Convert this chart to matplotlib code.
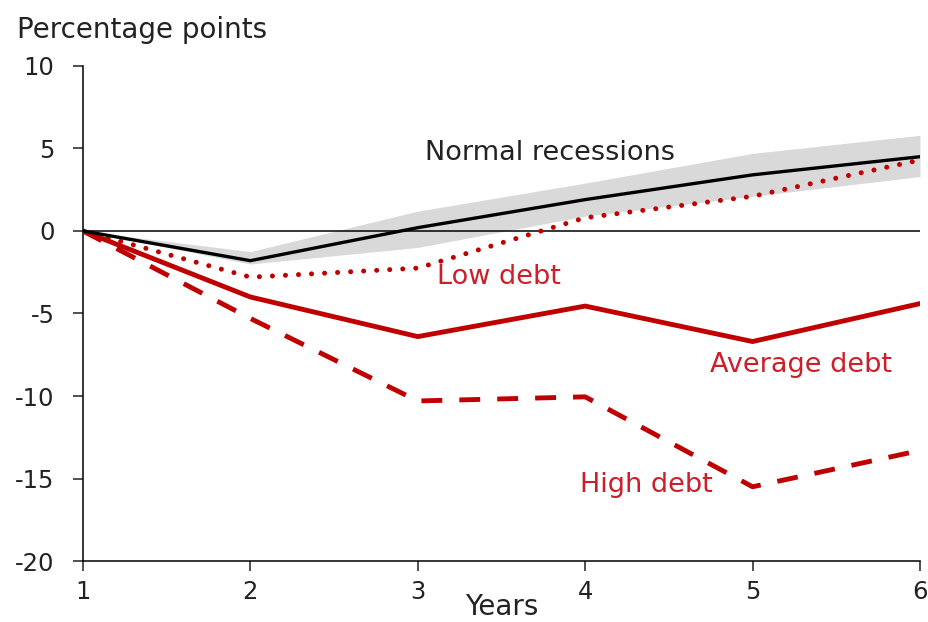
import matplotlib
matplotlib.use("Agg")
import matplotlib.pyplot as plt

# values
years = [1, 2, 3, 4, 5, 6]
normal = [0, -1.8, 0.2, 1.9, 3.4, 4.5]
band_upper = [0, -1.25, 1.2, 2.9, 4.7, 5.8]
band_lower = [0, -2.0, -1.0, 0.9, 2.1, 3.3]
low_debt = [0, -2.8, -2.25, 0.8, 2.1, 4.3]
average_debt = [0, -4.0, -6.4, -4.55, -6.7, -4.4]
high_debt = [0, -5.3, -10.3, -10.05, -15.5, -13.3]

yticks = [10, 5, 0, -5, -10, -15, -20]

red = "#c00000"
red_text = "#cc1f2a"
ink = "#222222"

plt.rcParams["font.family"] = "DejaVu Sans"
plt.rcParams["axes.unicode_minus"] = False
fig = plt.figure(figsize=(9.29, 6.22), dpi=100)
ax = fig.add_axes([0.0893, 0.098, 0.901, 0.796])

ax.fill_between(years, band_lower, band_upper, color="#d9d9d9", lw=0, zorder=1)
ax.axhline(0, color="black", lw=1.1, zorder=2)
ax.plot(years, normal, color="black", lw=2.4, zorder=4)
ax.plot(years, low_debt, color=red, lw=3.6, linestyle=(0, (0.01, 2.6)),
        dash_capstyle="round", zorder=3)
ax.plot(years, average_debt, color=red, lw=3.5, zorder=3)
ax.plot(years, high_debt, color=red, lw=3.5, linestyle=(0, (4.3, 3.5)), zorder=3)

label_size = 19.5
ax.text(3.79, 4.7, "Normal recessions", fontsize=label_size, color=ink,
        ha="center", va="center")
ax.text(3.115, -2.8, "Low debt", fontsize=label_size, color=red_text, ha="left", va="center")
ax.text(4.745, -8.1, "Average debt", fontsize=label_size, color=red_text, ha="left", va="center")
ax.text(3.97, -15.4, "High debt", fontsize=label_size, color=red_text, ha="left", va="center")

ax.set_xlim(1, 6)
ax.set_ylim(-20, 10)
ax.set_xticks(years)
ax.set_yticks(yticks)
ax.tick_params(labelsize=17.5, length=7.5, width=1.1, colors=ink)
ax.tick_params(axis="y", pad=13)
ax.tick_params(axis="x", pad=6)
for side in ["top", "right"]:
    ax.spines[side].set_visible(False)
for side in ["left", "bottom"]:
    ax.spines[side].set_linewidth(1.1)

ax.set_xlabel("Years", fontsize=20, color=ink, labelpad=-8)
fig.text(0.018, 0.952, "Percentage points", fontsize=20, color=ink,
         ha="left", va="center")

fig.savefig("out.png", dpi=100)
